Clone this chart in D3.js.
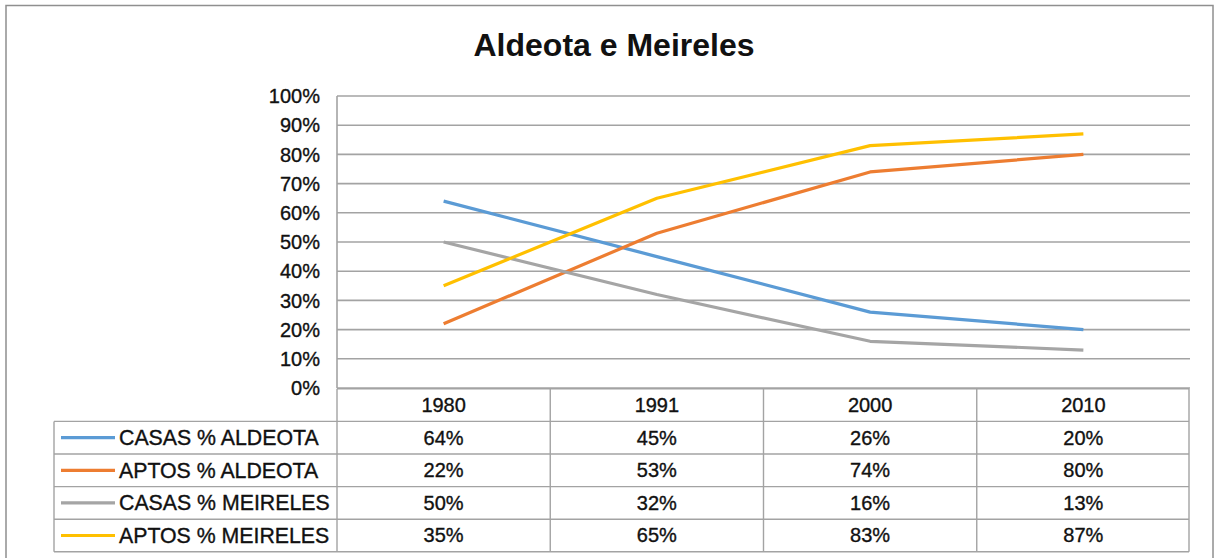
<!DOCTYPE html>
<html>
<head>
<meta charset="utf-8">
<script src="https://cdn.jsdelivr.net/npm/d3@7"></script>
<style>
  html, body { margin: 0; padding: 0; background: #fff; }
  svg { display: block; font-family: "Liberation Sans", Arial, Helvetica, sans-serif; }
  .lbl { stroke: #111; stroke-width: 0.35px; }
</style>
</head>
<body>
<svg id="chart" width="1216" height="558"></svg>
<script>
// Share of houses vs. apartments, Aldeota and Meireles
const years = ["1980", "1991", "2000", "2010"];
const seriesNames = ["CASAS % ALDEOTA", "APTOS % ALDEOTA", "CASAS % MEIRELES", "APTOS % MEIRELES"];
const casasAldeota = [64, 45, 26, 20];
const aptosAldeota = [22, 53, 74, 80];
const casasMeireles = [50, 32, 16, 13];
const aptosMeireles = [35, 65, 83, 87];
const yTicks = [0, 10, 20, 30, 40, 50, 60, 70, 80, 90, 100];
const seriesColors = ["#5b9bd5", "#ed7d31", "#a5a5a5", "#ffc000"];

const seriesValues = [casasAldeota, aptosAldeota, casasMeireles, aptosMeireles];
const series = seriesNames.map((name, i) => ({ name, values: seriesValues[i], color: seriesColors[i] }));

const svg = d3.select("#chart");
const gridColor = "#a3a3a3";
const textColor = "#111";

// outer frame (its bottom edge runs past the page)
svg.append("rect")
  .attr("x", 6).attr("y", 5.5).attr("width", 1207).attr("height", 560)
  .attr("fill", "#fff").attr("stroke", "#8f8f8f").attr("stroke-width", 1.5);

// title
svg.append("text")
  .attr("x", 614).attr("y", 56)
  .attr("text-anchor", "middle")
  .attr("font-size", 32).attr("font-weight", "bold")
  .attr("fill", textColor)
  .text("Aldeota e Meireles");

const plot = { left: 337, right: 1190, top: 96, bottom: 388 };

const x = d3.scaleBand().domain(years).range([plot.left, plot.right]);
const y = d3.scaleLinear().domain([0, 100]).range([plot.bottom, plot.top]);
const xc = d => x(d) + x.bandwidth() / 2;

// horizontal gridlines
svg.append("g").selectAll("line")
  .data(yTicks)
  .join("line")
  .attr("x1", plot.left).attr("x2", plot.right)
  .attr("y1", d => y(d)).attr("y2", d => y(d))
  .attr("stroke", gridColor).attr("stroke-width", 1.6);

// value axis line
svg.append("line")
  .attr("x1", plot.left).attr("x2", plot.left)
  .attr("y1", plot.top).attr("y2", plot.bottom)
  .attr("stroke", gridColor).attr("stroke-width", 1.6);

// y tick labels
svg.append("g").selectAll("text")
  .data(yTicks)
  .join("text").attr("class", "lbl")
  .attr("x", 320).attr("y", d => y(d))
  .attr("dy", "0.36em")
  .attr("text-anchor", "end")
  .attr("font-size", 20).attr("fill", textColor)
  .text(d => d + "%");

// series lines
const line = d3.line()
  .x((d, i) => xc(years[i]))
  .y(d => y(d));

svg.append("g").selectAll("path")
  .data(series)
  .join("path")
  .attr("d", d => line(d.values))
  .attr("fill", "none")
  .attr("stroke", d => d.color)
  .attr("stroke-width", 3.2)
  .attr("stroke-linejoin", "round");

// data table below the plot
const rowH = 32.6;
const tableTop = plot.bottom + 0.8;
const legendLeft = 54;
const tableRight = 1189;
const table = svg.append("g");

const rowY = i => tableTop + rowH * (i + 1); // top of series row i

// horizontal rules
table.append("line")
  .attr("x1", plot.left).attr("x2", tableRight)
  .attr("y1", tableTop).attr("y2", tableTop)
  .attr("stroke", gridColor).attr("stroke-width", 1.4);
table.selectAll("line.row")
  .data(d3.range(series.length + 1))
  .join("line").attr("class", "row")
  .attr("x1", legendLeft).attr("x2", tableRight)
  .attr("y1", i => rowY(i)).attr("y2", i => rowY(i))
  .attr("stroke", gridColor).attr("stroke-width", 1.4);

// vertical rules
const colEdges = years.map(d => x(d)).concat([tableRight]);
table.selectAll("line.col")
  .data(colEdges)
  .join("line").attr("class", "col")
  .attr("x1", d => d).attr("x2", d => d)
  .attr("y1", tableTop).attr("y2", rowY(series.length))
  .attr("stroke", gridColor).attr("stroke-width", 1.4);
table.append("line")
  .attr("x1", legendLeft).attr("x2", legendLeft)
  .attr("y1", rowY(0)).attr("y2", rowY(series.length))
  .attr("stroke", gridColor).attr("stroke-width", 1.4);

// header years
table.selectAll("text.year")
  .data(years)
  .join("text").attr("class", "year lbl")
  .attr("x", d => xc(d)).attr("y", tableTop + rowH / 2)
  .attr("dy", "0.34em").attr("text-anchor", "middle")
  .attr("font-size", 20).attr("fill", textColor)
  .text(d => d);

// legend keys and names
const rows = table.selectAll("g.srow")
  .data(series)
  .join("g").attr("class", "srow")
  .attr("transform", (d, i) => `translate(0,${rowY(i) + rowH / 2})`);

rows.append("line")
  .attr("x1", 61).attr("x2", 115)
  .attr("y1", 0).attr("y2", 0)
  .attr("stroke", d => d.color).attr("stroke-width", 3.2);

rows.append("text").attr("class", "lbl")
  .attr("x", 119).attr("dy", "0.35em")
  .attr("font-size", 21.3).attr("fill", textColor)
  .text(d => d.name);

rows.selectAll("text.val")
  .data(d => d.values.map((v, i) => ({ v, year: years[i] })))
  .join("text").attr("class", "val lbl")
  .attr("x", d => xc(d.year)).attr("dy", "0.34em")
  .attr("text-anchor", "middle")
  .attr("font-size", 20).attr("fill", textColor)
  .text(d => d.v + "%");
</script>
</body>
</html>
